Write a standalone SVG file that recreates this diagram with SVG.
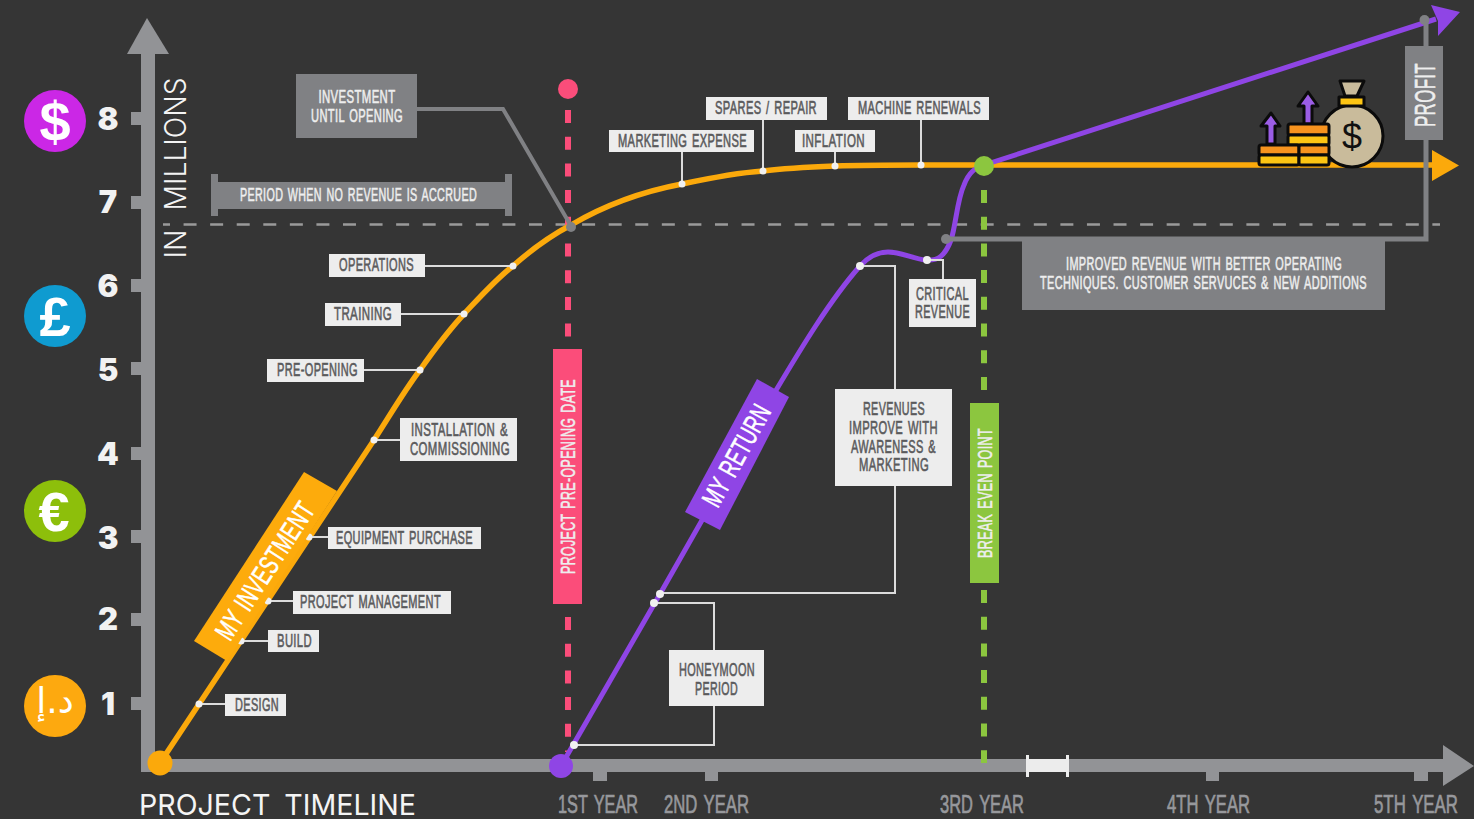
<svg xmlns="http://www.w3.org/2000/svg" width="1474" height="819" viewBox="0 0 1474 819">
<style>
text{font-family:"Liberation Sans Narrow","Liberation Sans",sans-serif;text-anchor:middle}
.lb{font-size:18px;fill:#5a5a5c;stroke:#5a5a5c;stroke-width:.6;letter-spacing:.6px;word-spacing:2px}
.lw{font-size:18px;fill:#eeeeee;stroke:#eeeeee;stroke-width:.55;letter-spacing:.6px;word-spacing:2px}
.yr{font-size:26px;fill:#97989c;stroke:#97989c;stroke-width:.7;word-spacing:3px}
.num{font-family:Inter,"Liberation Sans",sans-serif;font-size:31px;font-weight:900;fill:#f2f2f2}
.box{fill:#ededed}
.gbox{fill:#808184}
.cn{fill:none;stroke:#dcdcdc;stroke-width:2}
.dot{fill:#f0f0f0}
.ax{fill:#929396}
.cur{fill:#fff;font-weight:700;font-family:"Liberation Sans",sans-serif;font-size:56px}
.ic{stroke:#0b0b0b;stroke-width:3;stroke-linejoin:round}
</style>
<rect width="1474" height="819" fill="#353535"/>
<g id="axes">
<rect class="ax" x="141" y="50" width="14" height="722"/>
<polygon class="ax" points="147,18 169,54 127,54"/>
<rect class="ax" x="141" y="759" width="1304" height="13"/>
<polygon class="ax" points="1474,766 1443,745 1443,786"/>
<g class="ax">
<rect x="131" y="112" width="10" height="13"/><rect x="131" y="196" width="10" height="13"/><rect x="131" y="279" width="10" height="13"/><rect x="131" y="362" width="10" height="13"/><rect x="131" y="447" width="10" height="13"/><rect x="131" y="530" width="10" height="13"/><rect x="131" y="613" width="10" height="13"/><rect x="131" y="697" width="10" height="13"/>
<rect x="593" y="772" width="14" height="9"/><rect x="705" y="772" width="13" height="9"/><rect x="1206" y="772" width="13" height="9"/><rect x="1414" y="772" width="14" height="9"/>
</g>
<rect x="1028" y="759" width="39" height="13" fill="#ececec"/>
<rect x="1026" y="755" width="3" height="22" fill="#ececec"/><rect x="1066" y="755" width="3" height="22" fill="#ececec"/>
</g>
<g id="axis-labels">
<text class="num" x="108" y="130">8</text><text class="num" x="108" y="213">7</text><text class="num" x="108" y="297">6</text><text class="num" x="108" y="381">5</text><text class="num" x="108" y="465">4</text><text class="num" x="108" y="549">3</text><text class="num" x="108" y="630">2</text><text class="num" x="108" y="715">1</text>
<text transform="translate(186 168) rotate(-90)" textLength="181" lengthAdjust="spacingAndGlyphs" style="font-family:Inter,'Liberation Sans',sans-serif;font-size:30px;font-weight:300;word-spacing:12px;fill:#f4f4f4">IN MILLIONS</text>
<text x="277.500" y="815" textLength="277" lengthAdjust="spacingAndGlyphs" style="font-family:Inter,'Liberation Sans',sans-serif;font-size:29px;font-weight:400;word-spacing:6px;fill:#f4f4f4">PROJECT TIMELINE</text>
<text class="yr" x="598" y="813" textLength="80" lengthAdjust="spacingAndGlyphs">1ST YEAR</text>
<text class="yr" x="706.500" y="813" textLength="85" lengthAdjust="spacingAndGlyphs">2ND YEAR</text>
<text class="yr" x="982" y="813" textLength="84" lengthAdjust="spacingAndGlyphs">3RD YEAR</text>
<text class="yr" x="1208.500" y="813" textLength="83" lengthAdjust="spacingAndGlyphs">4TH YEAR</text>
<text class="yr" x="1416" y="813" textLength="84" lengthAdjust="spacingAndGlyphs">5TH YEAR</text>
</g>
<g id="currency-dollar"><circle cx="55" cy="121" r="31" fill="#cb27e6"/><text class="cur" x="55" y="141">$</text></g>
<g id="currency-pound"><circle cx="55" cy="316" r="31" fill="#0f9bd0"/><text class="cur" x="55" y="336">£</text></g>
<g id="currency-euro"><circle cx="55" cy="511" r="31" fill="#8dbf0b"/><text class="cur" x="54" y="531">€</text></g>
<g id="currency-dirham"><circle cx="55" cy="706" r="31" fill="#fda90f"/><text x="55" y="713" style="font-family:'DejaVu Sans',sans-serif;font-size:36px;fill:#fff">د.إ</text></g>

<g id="connectors">
<line x1="163" y1="224.500" x2="1440" y2="224.500" stroke="#9a9a9a" stroke-width="2.500" stroke-dasharray="13 13.570" stroke-dashoffset="6"/>
<path d="M568 110V345M568 617V752" fill="none" stroke="#fb4d7a" stroke-width="6" stroke-dasharray="13 13.700"/>
<path d="M984 190V400M984 590V763" fill="none" stroke="#8cc63f" stroke-width="6" stroke-dasharray="13 13.700"/>
<path id="orange-curve" d="M160 763L374 440C389 417 404 391 420 370C434 350 449 330 464 314C480 297 496 279 513 266C531 250 550 236 571 225C605 205 645 191 682 184C710 178 735 173 763 171C787 168 810 167 835 166C865 165 890 165 921 165L1435 165" fill="none" stroke="#fba90b" stroke-width="5.500"/>
<polygon points="1459,165.500 1432,150 1432,181" fill="#fba90b"/>
<path id="purple-curve" d="M561 766L660 594L775 392C800 350 830 300 860 266C869 256 878 252 888 252C902 252 912 259 926 260C938 261 945 256 951 240C956 225 957 200 964 185C969 172 975 168 984 165L1436 19" fill="none" stroke="#8f45e5" stroke-width="5"/>
<polygon points="1460,12 1431,5 1438,21 1438,36" fill="#8f45e5"/>
<path d="M417 109H503L571 226" fill="none" stroke="#808184" stroke-width="4"/>
<path d="M946 239H1426V20" fill="none" stroke="#808184" stroke-width="5"/>
<circle cx="1424.500" cy="20" r="5" fill="#808184"/>
<circle cx="946" cy="239" r="5" fill="#808184"/>
<circle cx="571" cy="227" r="5" fill="#808184"/>
<path class="cn" d="M199 704H225M241 641H268M268 601H293M309 537H328M374 440H400M364 370H420M401 314H464M425 266H513M682 152V184M763 120V171M835 152V166M921 120V165M927 260H943V279M860 266H895V389M895 486V593H660M654 603H714V650M714 706V745H574"/>
<g class="dot">
<circle cx="199" cy="704" r="3.500"/><circle cx="241" cy="641" r="3.500"/><circle cx="268" cy="601" r="3.500"/><circle cx="309" cy="537" r="3.500"/><circle cx="374" cy="440" r="3.500"/><circle cx="420" cy="370" r="3.500"/><circle cx="464" cy="314" r="3.500"/><circle cx="513" cy="266" r="3.500"/><circle cx="682" cy="184" r="3.500"/><circle cx="763" cy="171" r="3.500"/><circle cx="835" cy="166" r="3.500"/><circle cx="921" cy="165" r="3.500"/><circle cx="927" cy="260" r="4"/><circle cx="860" cy="266" r="4"/><circle cx="660" cy="594" r="4"/><circle cx="654" cy="603" r="4"/><circle cx="574" cy="745" r="4"/>
</g>
</g>

<g id="start-orange"><circle cx="160" cy="763" r="12.500" fill="#fba90b"/></g>
<g id="start-purple"><circle cx="561" cy="766" r="12" fill="#8f45e5"/></g>
<g id="pin-pink"><circle cx="568" cy="89" r="10" fill="#fb4d7a"/></g>
<g id="pin-green"><circle cx="984" cy="166" r="10" fill="#8cc63f"/></g>

<g id="banner-investment"><polygon points="304,472 337,491 227,661 194,641" fill="#fdab0c"/><text class="lw" transform="translate(273 576) rotate(-57)" textLength="158" lengthAdjust="spacingAndGlyphs" style="font-size:28px;fill:#fff;stroke:#fff">MY INVESTMENT</text></g>
<g id="banner-return"><polygon points="757,379 789,397 720,530 685,512" fill="#8f45e5"/><text class="lw" transform="translate(745 460) rotate(-61)" textLength="112" lengthAdjust="spacingAndGlyphs" style="font-size:28px;fill:#fff;stroke:#fff">MY RETURN</text></g>
<g id="bar-preopening"><rect x="553" y="349" width="29" height="255" fill="#fb4d7a"/><text class="lw" transform="translate(575 476.500) rotate(-90)" textLength="195" lengthAdjust="spacingAndGlyphs" style="font-size:21px">PROJECT PRE-OPENING DATE</text></g>
<g id="bar-breakeven"><rect x="970" y="403" width="29" height="180" fill="#8cc63f"/><text class="lw" transform="translate(992 493) rotate(-90)" textLength="130" lengthAdjust="spacingAndGlyphs" style="font-size:21px">BREAK EVEN POINT</text></g>

<g id="investment-until-opening"><rect class="gbox" x="296" y="74" width="121" height="64"/><text class="lw" x="357" y="103" textLength="77" lengthAdjust="spacingAndGlyphs">INVESTMENT</text><text class="lw" x="357" y="122" textLength="92" lengthAdjust="spacingAndGlyphs">UNTIL OPENING</text></g>
<g id="period-no-revenue"><rect class="gbox" x="214" y="182" width="294" height="27"/><rect class="gbox" x="211" y="174" width="7" height="42"/><rect class="gbox" x="505" y="174" width="7" height="42"/><text class="lw" x="358.500" y="201" textLength="237" lengthAdjust="spacingAndGlyphs">PERIOD WHEN NO REVENUE IS ACCRUED</text></g>
<g id="design"><rect class="box" x="225" y="694" width="61" height="22"/><text class="lb" x="257" y="711" textLength="44" lengthAdjust="spacingAndGlyphs">DESIGN</text></g>
<g id="build"><rect class="box" x="268" y="630" width="51" height="22"/><text class="lb" x="294.500" y="647" textLength="35" lengthAdjust="spacingAndGlyphs">BUILD</text></g>
<g id="project-management"><rect class="box" x="293" y="591" width="158" height="23"/><text class="lb" x="370.500" y="608" textLength="141" lengthAdjust="spacingAndGlyphs">PROJECT MANAGEMENT</text></g>
<g id="equipment-purchase"><rect class="box" x="328" y="527" width="153" height="22"/><text class="lb" x="404.500" y="544" textLength="137" lengthAdjust="spacingAndGlyphs">EQUIPMENT PURCHASE</text></g>
<g id="installation"><rect class="box" x="400" y="418" width="117" height="43"/><text class="lb" x="459.500" y="436" textLength="97" lengthAdjust="spacingAndGlyphs">INSTALLATION &amp;</text><text class="lb" x="460" y="455" textLength="100" lengthAdjust="spacingAndGlyphs">COMMISSIONING</text></g>
<g id="pre-opening"><rect class="box" x="267" y="359" width="97" height="23"/><text class="lb" x="317.500" y="376" textLength="81" lengthAdjust="spacingAndGlyphs">PRE-OPENING</text></g>
<g id="training"><rect class="box" x="325" y="303" width="76" height="23"/><text class="lb" x="363" y="320" textLength="58" lengthAdjust="spacingAndGlyphs">TRAINING</text></g>
<g id="operations"><rect class="box" x="329" y="254" width="96" height="23"/><text class="lb" x="376.500" y="271" textLength="75" lengthAdjust="spacingAndGlyphs">OPERATIONS</text></g>
<g id="marketing-expense"><rect class="box" x="609" y="130" width="145" height="22"/><text class="lb" x="682.500" y="147" textLength="129" lengthAdjust="spacingAndGlyphs">MARKETING EXPENSE</text></g>
<g id="spares-repair"><rect class="box" x="706" y="97" width="121" height="23"/><text class="lb" x="766" y="114" textLength="102" lengthAdjust="spacingAndGlyphs">SPARES / REPAIR</text></g>
<g id="inflation"><rect class="box" x="795" y="130" width="80" height="22"/><text class="lb" x="833.500" y="147" textLength="63" lengthAdjust="spacingAndGlyphs">INFLATION</text></g>
<g id="machine-renewals"><rect class="box" x="848" y="97" width="141" height="23"/><text class="lb" x="919.500" y="114" textLength="123" lengthAdjust="spacingAndGlyphs">MACHINE RENEWALS</text></g>
<g id="critical-revenue"><rect class="box" x="909" y="279" width="67" height="48"/><text class="lb" x="942.500" y="300" textLength="53" lengthAdjust="spacingAndGlyphs">CRITICAL</text><text class="lb" x="942.500" y="318" textLength="55" lengthAdjust="spacingAndGlyphs">REVENUE</text></g>
<g id="revenues-improve"><rect class="box" x="835" y="389" width="117" height="97"/><text class="lb" x="894" y="415" textLength="62" lengthAdjust="spacingAndGlyphs">REVENUES</text><text class="lb" x="893.500" y="434" textLength="89" lengthAdjust="spacingAndGlyphs">IMPROVE WITH</text><text class="lb" x="893.500" y="453" textLength="85" lengthAdjust="spacingAndGlyphs">AWARENESS &amp;</text><text class="lb" x="894" y="471" textLength="70" lengthAdjust="spacingAndGlyphs">MARKETING</text></g>
<g id="honeymoon-period"><rect class="box" x="669" y="650" width="95" height="56"/><text class="lb" x="717" y="676" textLength="76" lengthAdjust="spacingAndGlyphs">HONEYMOON</text><text class="lb" x="716.500" y="695" textLength="43" lengthAdjust="spacingAndGlyphs">PERIOD</text></g>
<g id="improved-revenue"><rect class="gbox" x="1022" y="238" width="363" height="72"/><text class="lw" x="1204" y="270" textLength="276" lengthAdjust="spacingAndGlyphs">IMPROVED REVENUE WITH BETTER OPERATING</text><text class="lw" x="1203.500" y="289" textLength="327" lengthAdjust="spacingAndGlyphs">TECHNIQUES. CUSTOMER SERVUCES &amp; NEW ADDITIONS</text></g>
<g id="profit"><rect class="gbox" x="1405" y="46" width="38" height="94"/><text class="lw" transform="translate(1435 95) rotate(-90)" textLength="64" lengthAdjust="spacingAndGlyphs" style="font-size:30px">PROFIT</text></g>

<g id="money-icon" class="ic">
<path d="M1340 81H1364L1357 96H1345Z" fill="#c9bb9b"/>
<circle cx="1352" cy="136" r="31" fill="#c9bb9b"/>
<rect x="1339" y="97" width="25" height="9" fill="#fdc513"/>
<text x="1352" y="149" style="font-family:'Liberation Sans',sans-serif;font-size:36px;fill:#111;stroke:none">$</text>
<path d="M1308 92L1318 106H1312V124H1304V106H1298Z" fill="#9b5de5"/>
<path d="M1271 113L1280 126H1275V144H1267V126H1261Z" fill="#9b5de5"/>
<rect x="1288" y="124" width="41" height="11" rx="2" fill="#f7931e"/>
<rect x="1288" y="135" width="41" height="10" rx="2" fill="#fdc513"/>
<rect x="1259" y="145" width="40" height="10" rx="2" fill="#f7931e"/>
<rect x="1259" y="155" width="40" height="10" rx="2" fill="#fdc513"/>
<rect x="1299" y="145" width="30" height="10" rx="2" fill="#f7931e"/>
<rect x="1299" y="155" width="30" height="10" rx="2" fill="#fdc513"/>
</g>
</svg>
